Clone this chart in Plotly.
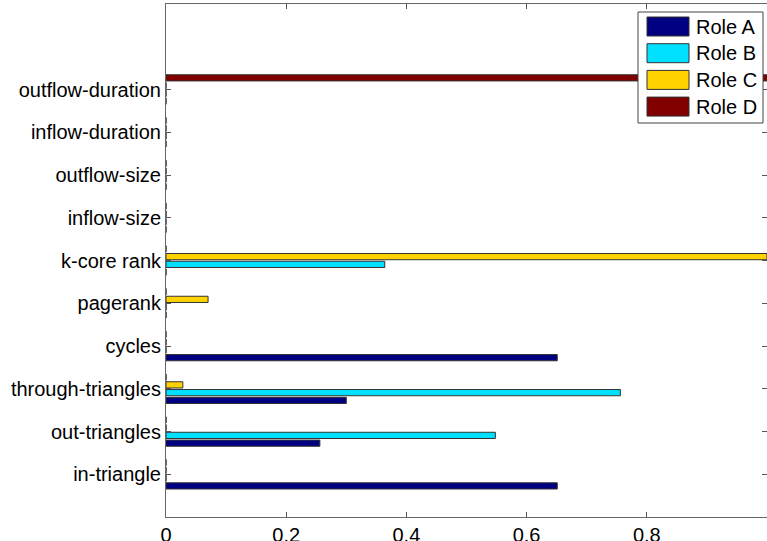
import plotly.graph_objects as go

categories = ["in-triangle", "out-triangles", "through-triangles", "cycles", "pagerank",
              "k-core rank", "inflow-size", "outflow-size", "inflow-duration", "outflow-duration"]
role_a = [0.651, 0.256, 0.300, 0.651, 0.0, 0.0, 0.0, 0.0, 0.0, 0.0]
role_b = [0.0, 0.548, 0.756, 0.0, 0.0, 0.364, 0.0, 0.0, 0.0, 0.0]
role_c = [0.0, 0.0, 0.028, 0.0, 0.070, 1.0, 0.0, 0.0, 0.0, 0.0]
role_d = [0.0, 0.0, 0.0, 0.0, 0.0, 0.0, 0.0, 0.0, 0.0, 1.0]
series_names = ["Role A", "Role B", "Role C", "Role D"]
series_values = [role_a, role_b, role_c, role_d]
series_colors = ["#000080", "#00E0FF", "#FFD200", "#800000"]
x_ticks = [0, 0.2, 0.4, 0.6, 0.8, 1]

W, H = 767, 541
L, R, T, B = 166, 0, 4, 24
pw, ph = W - L - R, H - T - B


def px_x(p):
    return (p - L) / pw


def px_y(p):
    return (H - B - p) / ph


fig = go.Figure()
for name, vals, col in zip(series_names, series_values, series_colors):
    fig.add_trace(go.Bar(y=categories, x=vals, name=name, orientation="h",
                         marker=dict(color=col, line=dict(color="#333333", width=1)),
                         showlegend=False))

font = "Liberation Sans, Arial, Helvetica, sans-serif"

# legend drawn as a boxed key
shapes = [dict(type="rect", xref="paper", yref="paper",
               x0=px_x(638), x1=px_x(763), y0=px_y(123), y1=px_y(12),
               fillcolor="white", line=dict(color="#444444", width=1), layer="above")]
annotations = []
for i, (name, col) in enumerate(zip(series_names, series_colors)):
    top = 17 + i * 26.7
    shapes.append(dict(type="rect", xref="paper", yref="paper",
                       x0=px_x(647), x1=px_x(689), y0=px_y(top + 19), y1=px_y(top),
                       fillcolor=col, line=dict(color="#333333", width=1), layer="above"))
    annotations.append(dict(xref="paper", yref="paper", x=px_x(694), y=px_y(top + 9.5),
                            xanchor="left", yanchor="middle", showarrow=False,
                            text=name, font=dict(size=20, family=font, color="black")))

fig.update_layout(
    width=W, height=H,
    margin=dict(l=L, r=R, t=T, b=B),
    barmode="group", bargap=0.273, bargroupgap=0.2,
    plot_bgcolor="white", paper_bgcolor="white",
    font=dict(family=font, size=20, color="black"),
    showlegend=False,
    shapes=shapes, annotations=annotations,
)
fig.update_xaxes(range=[0, 1], tickvals=x_ticks, ticktext=[str(v) for v in x_ticks],
                 ticks="inside", ticklen=5, tickcolor="#555555", mirror="ticks",
                 showline=True, linecolor="#666666", linewidth=1, showgrid=False,
                 zeroline=False, automargin=False)
fig.update_yaxes(range=[-1, 11], categoryorder="array", categoryarray=categories,
                 ticks="inside", ticklen=5, tickcolor="#555555", mirror="ticks",
                 showline=True, linecolor="#666666", linewidth=1, showgrid=False,
                 zeroline=False, automargin=False, ticklabelstandoff=0)

fig.write_html("out.html", config={"displayModeBar": False},
               post_script="document.body.style.margin='0';")
